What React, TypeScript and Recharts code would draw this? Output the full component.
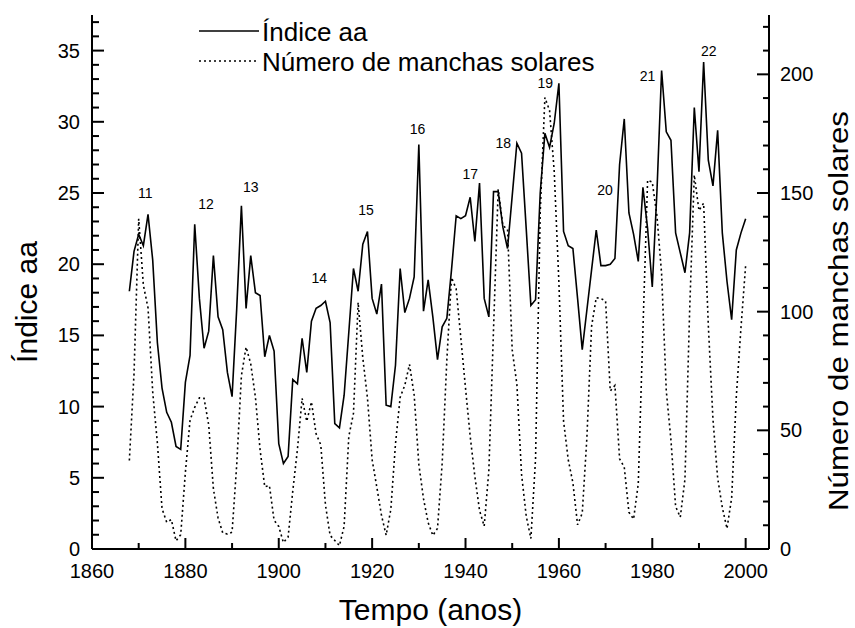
import React from 'react';
import { ComposedChart, Line, Scatter, XAxis, YAxis, Legend, Label } from 'recharts';

const FONT = 'Arial, "Liberation Sans", Helvetica, sans-serif';

// annual means 1868-2000
const FIRST_YEAR = 1868;

const aaIndex = [
  18.1, 20.9, 22.1, 21.3, 23.5, 20.3, 14.5, 11.3, 9.6, 8.9,
  7.2, 7.0, 11.7, 13.6, 22.8, 17.6, 14.1, 15.3, 20.6, 16.3,
  15.4, 12.4, 10.7, 16.9, 24.1, 16.9, 20.6, 18.0, 17.8, 13.5,
  15.0, 13.9, 7.4, 6.0, 6.5, 11.9, 11.6, 14.8, 12.4, 16.0,
  16.9, 17.1, 17.4, 15.9, 8.8, 8.5, 10.8, 15.2, 19.7, 18.1,
  21.4, 22.3, 17.6, 16.5, 18.6, 10.1, 10.0, 12.9, 19.7, 16.6,
  17.6, 19.1, 28.4, 16.7, 18.9, 16.3, 13.3, 15.6, 16.2, 19.6,
  23.4, 23.2, 23.4, 24.7, 21.6, 25.7, 17.6, 16.3, 25.1, 25.1,
  22.6, 21.1, 24.8, 28.5, 27.8, 22.5, 17.1, 17.5, 25.0, 29.2,
  28.2, 29.9, 32.7, 22.3, 21.3, 21.1, 17.6, 14.0, 16.8, 19.6,
  22.4, 19.9, 19.9, 20.0, 20.4, 27.0, 30.2, 23.6, 22.1, 20.2,
  25.4, 22.5, 18.4, 25.1, 33.6, 29.3, 28.7, 22.2, 20.8, 19.4,
  22.2, 31.0, 26.5, 34.2, 27.3, 25.5, 29.4, 22.2, 18.8, 16.1,
  21.0, 22.2, 23.2,
];

const sunspots = [
  37.3, 73.9, 139.1, 111.2, 101.6, 66.2, 44.7, 17.0, 11.3, 12.4,
  3.4, 6.0, 32.3, 54.3, 59.7, 63.7, 63.5, 52.2, 25.4, 13.1,
  6.8, 6.3, 7.1, 35.6, 73.0, 85.1, 78.0, 64.0, 41.8, 26.2,
  26.7, 12.1, 9.5, 2.7, 5.0, 24.4, 42.0, 63.5, 53.8, 62.0,
  48.5, 43.9, 18.6, 5.7, 3.6, 1.4, 9.6, 47.4, 57.1, 103.9,
  80.6, 63.6, 37.6, 26.1, 14.2, 5.8, 16.7, 44.3, 63.9, 69.0,
  77.8, 64.9, 35.7, 21.2, 11.1, 5.7, 8.7, 36.1, 79.7, 114.4,
  109.6, 88.8, 67.8, 47.5, 30.6, 16.3, 9.6, 33.2, 92.6, 151.6,
  136.3, 134.7, 83.9, 69.4, 31.5, 13.9, 4.4, 38.0, 141.7, 190.2,
  184.8, 159.0, 112.3, 53.9, 37.6, 27.9, 10.2, 15.1, 47.0, 93.8,
  105.9, 105.5, 104.5, 66.6, 68.9, 38.0, 34.5, 15.5, 12.6, 27.5,
  92.5, 155.4, 154.6, 140.4, 115.9, 66.6, 45.9, 17.9, 13.4, 29.4,
  100.2, 157.6, 142.6, 145.7, 94.3, 54.6, 29.9, 17.5, 8.6, 21.5,
  64.3, 93.3, 119.6,
];

// solar cycle numbers written over the curves
const cycleNumbers = ['11', '12', '13', '14', '15', '16', '17', '18', '19', '20', '21', '22'];
const cycleYears = [1871.4, 1884.4, 1894.0, 1908.7, 1918.7, 1929.7, 1941.0, 1948.1, 1957.1, 1969.9, 1979.0, 1992.1];
const cycleLevels = [25.0, 24.2, 25.4, 19.0, 23.8, 29.5, 26.3, 28.5, 32.7, 25.2, 33.2, 35.0];

const xTicks = [1860, 1870, 1880, 1890, 1900, 1910, 1920, 1930, 1940, 1950, 1960, 1970, 1980, 1990, 2000];
const leftTicks = Array.from({ length: 38 }, (_, i) => i);
const rightTicks = Array.from({ length: 23 }, (_, i) => i * 10);

const SERIES = [
  { key: 'aa', name: 'Índice aa', dash: undefined as string | undefined },
  { key: 'ssn', name: 'Número de manchas solares', dash: '2 3' },
];

const data = aaIndex.map((v, i) => ({ year: FIRST_YEAR + i, aa: v, ssn: sunspots[i] }));
const cycleData = cycleNumbers.map((n, i) => ({ year: cycleYears[i], level: cycleLevels[i], label: n }));

const XTick = (props: any) => {
  const { x, y, payload } = props;
  const major = payload.value % 20 === 0;
  return (
    <g>
      <line x1={x} x2={x} y1={y} y2={y - (major ? 11 : 6)} stroke="#000" strokeWidth={2} />
      {major && (
        <text x={x} y={y + 29} textAnchor="middle" fontSize={20} fontFamily={FONT} fill="#000">
          {payload.value}
        </text>
      )}
    </g>
  );
};

const LeftTick = (props: any) => {
  const { x, y, payload } = props;
  const major = payload.value % 5 === 0;
  return (
    <g>
      <line x1={x} x2={x + (major ? 12 : 7)} y1={y} y2={y} stroke="#000" strokeWidth={2} />
      {major && (
        <text x={x - 12} y={y + 7} textAnchor="end" fontSize={20} fontFamily={FONT} fill="#000">
          {payload.value}
        </text>
      )}
    </g>
  );
};

const RightTick = (props: any) => {
  const { x, y, payload } = props;
  const major = payload.value % 50 === 0;
  return (
    <g>
      <line x1={x} x2={x - (major ? 12 : 6)} y1={y} y2={y} stroke="#000" strokeWidth={2} />
      {major && (
        <text x={x + 11} y={y + 7} textAnchor="start" fontSize={20} fontFamily={FONT} fill="#000">
          {payload.value}
        </text>
      )}
    </g>
  );
};

const CycleLabel = (props: any) => {
  const { cx, cy, payload } = props;
  return (
    <text x={cx} y={cy + 5} textAnchor="middle" fontSize={14} fontFamily={FONT} fill="#000">
      {payload.label}
    </text>
  );
};

const renderLegend = () => (
  <div style={{ fontFamily: FONT, fontSize: 26, lineHeight: '30px', color: '#000' }}>
    {SERIES.map((s) => (
      <div key={s.key} style={{ display: 'flex', alignItems: 'flex-start', height: 30 }}>
        <svg width={66} height={30} style={{ display: 'block' }}>
          <line x1={3} x2={63} y1={14} y2={14} stroke="#000" strokeWidth={1.6} strokeDasharray={s.dash} />
        </svg>
        <span style={{ whiteSpace: 'nowrap' }}>{s.name}</span>
      </div>
    ))}
  </div>
);

export default function App() {
  return (
    <div style={{ position: 'absolute', left: 0, top: 0, width: 855, height: 628, background: '#fff' }}>
      <ComposedChart
        width={855}
        height={628}
        data={data}
        margin={{ top: 15, right: 0, bottom: 0, left: 0 }}
        style={{ fontFamily: FONT }}
      >
        <XAxis
          dataKey="year"
          type="number"
          domain={[1860, 2005]}
          ticks={xTicks}
          interval={0}
          height={79}
          tickSize={0}
          tickMargin={0}
          tickLine={false}
          axisLine={{ stroke: '#000', strokeWidth: 2 }}
          tick={<XTick />}
        >
          <Label
            content={({ viewBox }: any) => (
              <text
                x={viewBox.x + viewBox.width / 2}
                y={viewBox.y + 71}
                textAnchor="middle"
                fontSize={30}
                fontFamily={FONT}
                fill="#000"
              >
                Tempo (anos)
              </text>
            )}
          />
        </XAxis>
        <XAxis
          xAxisId="top"
          orientation="top"
          dataKey="year"
          type="number"
          domain={[1860, 2005]}
          height={0}
          tick={false}
          tickLine={false}
          axisLine={{ stroke: '#000', strokeWidth: 2 }}
        />
        <YAxis
          yAxisId="left"
          type="number"
          domain={[0, 37.5]}
          ticks={leftTicks}
          interval={0}
          width={92}
          tickSize={0}
          tickMargin={0}
          tickLine={false}
          axisLine={{ stroke: '#000', strokeWidth: 2 }}
          tick={<LeftTick />}
        >
          <Label
            content={({ viewBox }: any) => {
              const cx = viewBox.x + 37;
              const cy = viewBox.y + viewBox.height / 2 + 20;
              return (
                <text
                  x={cx}
                  y={cy}
                  transform={`rotate(-90 ${cx} ${cy})`}
                  textAnchor="middle"
                  fontSize={30}
                  fontFamily={FONT}
                  fill="#000"
                >
                  Índice aa
                </text>
              );
            }}
          />
        </YAxis>
        <YAxis
          yAxisId="right"
          orientation="right"
          type="number"
          domain={[0, 225]}
          ticks={rightTicks}
          interval={0}
          width={86}
          tickSize={0}
          tickMargin={0}
          tickLine={false}
          axisLine={{ stroke: '#000', strokeWidth: 2 }}
          tick={<RightTick />}
        >
          <Label
            content={({ viewBox }: any) => {
              const cx = viewBox.x + 79;
              const cy = viewBox.y + viewBox.height / 2 + 29;
              return (
                <text
                  x={cx}
                  y={cy}
                  transform={`rotate(-90 ${cx} ${cy})`}
                  textAnchor="middle"
                  fontSize={27}
                  textLength={400}
                  lengthAdjust="spacingAndGlyphs"
                  fontFamily={FONT}
                  fill="#000"
                >
                  Número de manchas solares
                </text>
              );
            }}
          />
        </YAxis>
        <Legend
          layout="vertical"
          align="center"
          verticalAlign="middle"
          content={renderLegend}
          wrapperStyle={{ left: 196, top: 17, width: 'auto', height: 'auto' }}
        />
        <Line
          yAxisId="right"
          dataKey="ssn"
          name="Número de manchas solares"
          type="linear"
          stroke="#000"
          strokeWidth={1.6}
          strokeDasharray="2 3"
          dot={false}
          isAnimationActive={false}
        />
        <Line
          yAxisId="left"
          dataKey="aa"
          name="Índice aa"
          type="linear"
          stroke="#000"
          strokeWidth={1.6}
          dot={false}
          isAnimationActive={false}
        />
        <Scatter
          yAxisId="left"
          data={cycleData}
          dataKey="level"
          legendType="none"
          shape={<CycleLabel />}
          isAnimationActive={false}
        />
      </ComposedChart>
    </div>
  );
}
